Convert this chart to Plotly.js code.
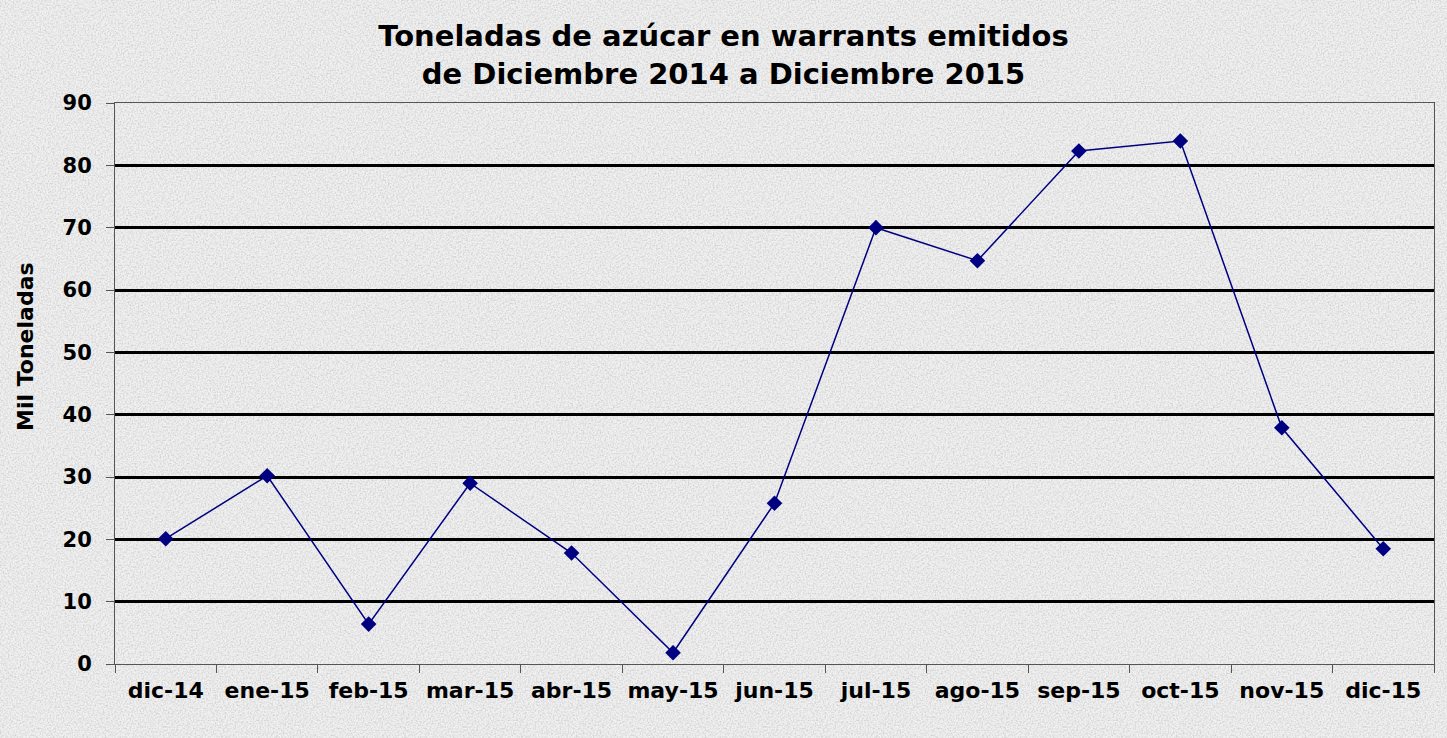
<!DOCTYPE html>
<html>
<head>
<meta charset="utf-8">
<script src="https://cdn.plot.ly/plotly-3.0.1.min.js"></script>
<style>
  html, body { margin: 0; padding: 0; }
  body {
    width: 1447px; height: 738px; overflow: hidden;
    background-color: #ebebeb;
    background-image: url("data:image/svg+xml;utf8,<svg xmlns='http://www.w3.org/2000/svg' width='300' height='300'><filter id='n'><feTurbulence type='fractalNoise' baseFrequency='0.6' numOctaves='3' stitchTiles='stitch'/><feColorMatrix type='matrix' values='0 0 0 0 0.55  0 0 0 0 0.55  0 0 0 0 0.55  2.2 0 0 0 -0.85'/></filter><rect width='300' height='300' fill='%23f0f0f0'/><rect width='300' height='300' filter='url(%23n)' opacity='0.7'/></svg>");
  }
  #myGraph { width: 1447px; height: 738px; }
</style>
</head>
<body>
<div id="myGraph"></div>
<script>
//months shown on the x axis
const months = ["dic-14", "ene-15", "feb-15", "mar-15", "abr-15", "may-15", "jun-15",
  "jul-15", "ago-15", "sep-15", "oct-15", "nov-15", "dic-15"];
//thousand tonnes per month
const tonnes = [20.1, 30.2, 6.4, 29.0, 17.8, 1.8, 25.8, 70.0, 64.7, 82.3, 83.9, 37.9, 18.5];
const yTicks = [0, 10, 20, 30, 40, 50, 60, 70, 80, 90];

//the original looks stretched sideways, DejaVu bold is the closest wide face
const boldFont = "DejaVu Sans, Liberation Sans, sans-serif";

let data = [{
  x: months,
  y: tonnes,
  type: "scatter",
  mode: "lines+markers",
  line: { color: "#000080", width: 1.5 },
  marker: { symbol: "diamond", size: 12, color: "#000080" },
  hoverinfo: "x+y"
}];

let layout = {
  width: 1447,
  height: 738,
  paper_bgcolor: "rgba(0,0,0,0)",
  plot_bgcolor: "rgba(0,0,0,0)",
  margin: { l: 115, r: 13, t: 103, b: 74 },
  showlegend: false,
  title: {
    text: "Toneladas de azúcar en warrants emitidos<br>de Diciembre 2014 a Diciembre 2015",
    x: 0.5, xref: "container", xanchor: "center",
    y: 0.937, yref: "container", yanchor: "top",
    font: { family: boldFont, size: 29, weight: "bold", color: "#000" }
  },
  xaxis: {
    type: "category",
    range: [-0.5, months.length - 0.5],
    tickson: "boundaries",
    ticks: "outside",
    ticklen: 8,
    tickcolor: "#555",
    tickwidth: 1,
    ticklabelstandoff: 7,
    showline: true,
    linecolor: "#555",
    linewidth: 1,
    mirror: true,
    showgrid: false,
    tickfont: { family: boldFont, size: 22, weight: "bold", color: "#000" }
  },
  yaxis: {
    range: [0, 90],
    tickvals: yTicks,
    ticks: "outside",
    ticklen: 8,
    tickcolor: "#555",
    ticklabelstandoff: 10,
    showline: true,
    linecolor: "#555",
    linewidth: 1,
    mirror: true,
    showgrid: true,
    gridcolor: "#000",
    gridwidth: 3,
    zeroline: false,
    tickfont: { family: boldFont, size: 21, weight: "bold", color: "#000" }
  },
  //axis title sits a bit above the middle in the original, so place it by hand
  annotations: [{
    text: "Mil Toneladas",
    textangle: -90,
    xref: "paper", yref: "paper",
    x: -0.0675, y: 0.567,
    xanchor: "center", yanchor: "middle",
    showarrow: false,
    font: { family: boldFont, size: 22, weight: "bold", color: "#000" }
  }]
};

Plotly.newPlot("myGraph", data, layout, { displayModeBar: false, staticPlot: true });
</script>
</body>
</html>
